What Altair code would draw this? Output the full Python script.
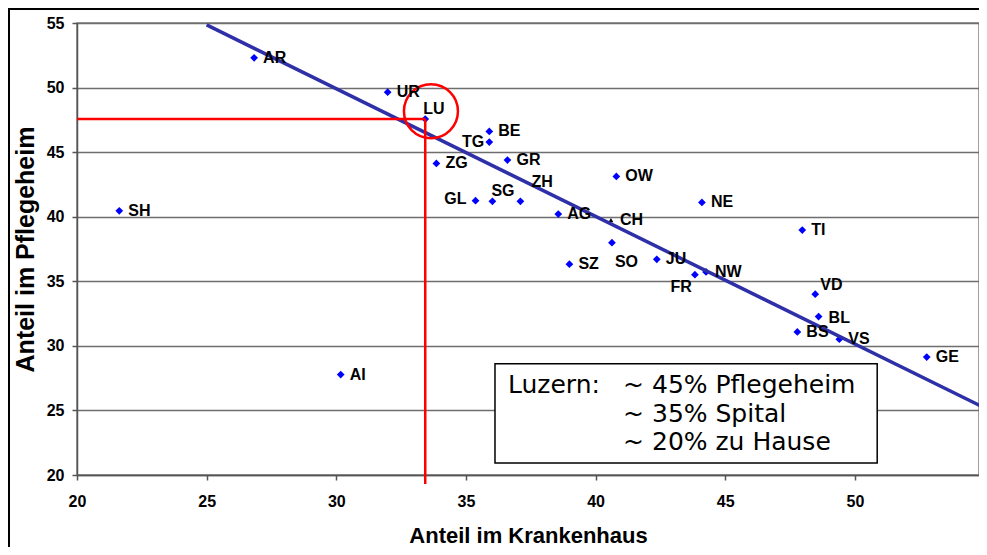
import altair as alt
import pandas as pd

# --- data ---
kantone = ["AR", "SH", "UR", "LU", "BE", "TG", "ZG", "GR", "OW", "GL", "SG", "ZH", "AG", "CH",
           "SO", "SZ", "JU", "FR", "NW", "NE", "TI", "VD", "BL", "BS", "VS", "GE", "AI"]
anteil_krankenhaus = [26.83, 21.63, 31.98, 33.43, 35.90, 35.90, 33.86, 36.60, 40.80, 35.37, 36.02, 37.10, 38.56, 40.59,
                      40.63, 38.99, 42.36, 43.83, 44.26, 44.10, 47.97, 48.47, 48.60, 47.78, 49.40, 52.77, 30.17]
anteil_pflegeheim = [52.30, 40.46, 49.64, 47.56, 46.60, 45.78, 44.13, 44.39, 43.12, 41.24, 41.19, 41.19, 40.21, 39.74,
                     37.99, 36.32, 36.70, 35.51, 35.72, 41.11, 38.97, 34.00, 32.27, 31.08, 30.52, 29.13, 27.78]

trend_x = [25.0, 55.0]
trend_y = [54.85, 25.2]

lu_x = 33.43
lu_y = 47.56

box_lines_left = ["Luzern:"]
box_lines_right = ["~ 45% Pflegeheim", "~ 35% Spital", "~ 20% zu Hause"]

x_ticks = [20, 25, 30, 35, 40, 45, 50, 55]
y_ticks = [20, 25, 30, 35, 40, 45, 50, 55]

# label placement (pixels) for each canton label
label_pos = {
    "LU": (-2, -10, "left"), "TG": (-5, 0, "right"), "GL": (-9, -2, "right"),
    "SG": (-1, -10, "left"), "ZH": (11, -19, "left"), "SO": (3, 19, "left"),
    "FR": (-3, 12, "right"), "VD": (5, -9, "left"), "BL": (10, 1, "left"),
}

# plot area: the reference's x range 20..55 runs slightly past the page edge
PX_X = 25.93
W, H = 902, 452
XMIN, XMAX, YMIN, YMAX = 20, 20 + W / PX_X, 20, 55
PX_Y = H / (YMAX - YMIN)

df = pd.DataFrame({"kanton": kantone, "kh": anteil_krankenhaus, "ph": anteil_pflegeheim})
df["dx"] = [label_pos.get(k, (9, 0, "left"))[0] for k in kantone]
df["dy"] = [label_pos.get(k, (9, 0, "left"))[1] for k in kantone]
df["al"] = [label_pos.get(k, (9, 0, "left"))[2] for k in kantone]

xs = alt.Scale(domain=[XMIN, XMAX], nice=False, zero=False)
ys = alt.Scale(domain=[YMIN, YMAX], nice=False, zero=False)

FONT = "Liberation Sans"

base = alt.Chart(df)

x_enc = alt.X("kh:Q", scale=xs, title="Anteil im Krankenhaus",
              axis=alt.Axis(values=x_ticks, grid=False, tickSize=5, labelPadding=13,
                            titlePadding=16, labelFlush=False))
y_enc = alt.Y("ph:Q", scale=ys, title="Anteil im Pflegeheim",
              axis=alt.Axis(values=y_ticks, grid=True, tickSize=5, labelPadding=8,
                            titlePadding=8, labelFlush=False))

# outer frame
frame = alt.Chart(pd.DataFrame({"a": [0]})).mark_rect(
    filled=False, stroke="black", strokeWidth=2, clip=False
).encode(x=alt.value(-68), x2=alt.value(1000), y=alt.value(-14), y2=alt.value(600))

# red guide lines
red_h = alt.Chart(pd.DataFrame({"x1": [20.0], "x2": [lu_x], "y": [lu_y]})).mark_rule(
    color="#ff0000", strokeWidth=2.5, clip=False
).encode(x=alt.X("x1:Q", scale=xs), x2="x2:Q", y=alt.Y("y:Q", scale=ys))
red_v = alt.Chart(pd.DataFrame({"x": [lu_x], "y1": [lu_y], "y2": [19.3]})).mark_rule(
    color="#ff0000", strokeWidth=2.5, clip=False
).encode(x=alt.X("x:Q", scale=xs), y=alt.Y("y1:Q", scale=ys), y2="y2:Q")

trend = alt.Chart(pd.DataFrame({"x": trend_x, "y": trend_y})).mark_line(
    color="#2f2fa8", strokeWidth=3.5
).encode(x=alt.X("x:Q", scale=xs), y=alt.Y("y:Q", scale=ys))

pts = base.mark_point(filled=True, opacity=1).encode(
    x=x_enc, y=y_enc,
    shape=alt.condition("datum.kanton == 'CH'", alt.value("triangle-up"), alt.value("diamond")),
    color=alt.condition("datum.kanton == 'CH'", alt.value("black"), alt.value("#0000ff")),
    size=alt.condition("datum.kanton == 'CH'", alt.value(25), alt.value(60)),
)

def labels(align):
    return base.transform_filter(f"datum.al == '{align}'").transform_calculate(
        lx=f"datum.kh + datum.dx / {PX_X}",
        ly=f"datum.ph - datum.dy / {PX_Y}",
    ).mark_text(
        align=align, baseline="middle", font=FONT, fontWeight="bold", fontSize=16, color="black"
    ).encode(
        x=alt.X("lx:Q", scale=xs), y=alt.Y("ly:Q", scale=ys),
        text="kanton:N",
    )

circle = alt.Chart(pd.DataFrame({"x": [33.65], "y": [48.17]})).mark_point(
    shape="circle", filled=False, stroke="#ff0000", strokeWidth=2.5, size=2916, opacity=1
).encode(x=alt.X("x:Q", scale=xs), y=alt.Y("y:Q", scale=ys))

box = alt.Chart(pd.DataFrame({"x1": [36.12], "x2": [50.86], "y1": [20.93], "y2": [28.61]})).mark_rect(
    fill="white", stroke="black", strokeWidth=1.5
).encode(x=alt.X("x1:Q", scale=xs), x2="x2:Q", y=alt.Y("y1:Q", scale=ys), y2="y2:Q")

box_left = alt.Chart(pd.DataFrame({"t": box_lines_left, "x": [36.62], "y": [26.34]})).mark_text(
    align="left", baseline="alphabetic", font="DejaVu Sans", fontSize=25, color="black"
).encode(x=alt.X("x:Q", scale=xs), y=alt.Y("y:Q", scale=ys), text="t:N")

box_right = alt.Chart(pd.DataFrame({"t": box_lines_right, "x": [41.06] * 3, "y": [26.34, 24.12, 21.90]})).mark_text(
    align="left", baseline="alphabetic", font="DejaVu Sans", fontSize=25, color="black"
).encode(x=alt.X("x:Q", scale=xs), y=alt.Y("y:Q", scale=ys), text="t:N")

chart = alt.layer(
    frame, pts, trend, red_h, red_v, circle, labels("left"), labels("right"), box, box_left, box_right
).properties(
    width=W, height=H,
    autosize=alt.AutoSizeParams(type="none"),
    padding={"left": 69, "top": 15, "right": 0, "bottom": 72},
).configure_view(
    stroke="#808080", strokeWidth=1.5
).configure_axis(
    labelFont=FONT, labelFontWeight="bold", labelFontSize=16, labelColor="black",
    titleFont=FONT, titleFontWeight="bold", titleFontSize=22, titleColor="black",
    domainColor="#555555", domainWidth=1.5, tickColor="#555555", tickWidth=1.5,
    gridColor="#6e6e6e", gridWidth=1.5, gridOpacity=1,
).configure_axisY(
    titleFontSize=25
)

chart.save("out.html", embed_options={"renderer": "svg", "actions": False})
